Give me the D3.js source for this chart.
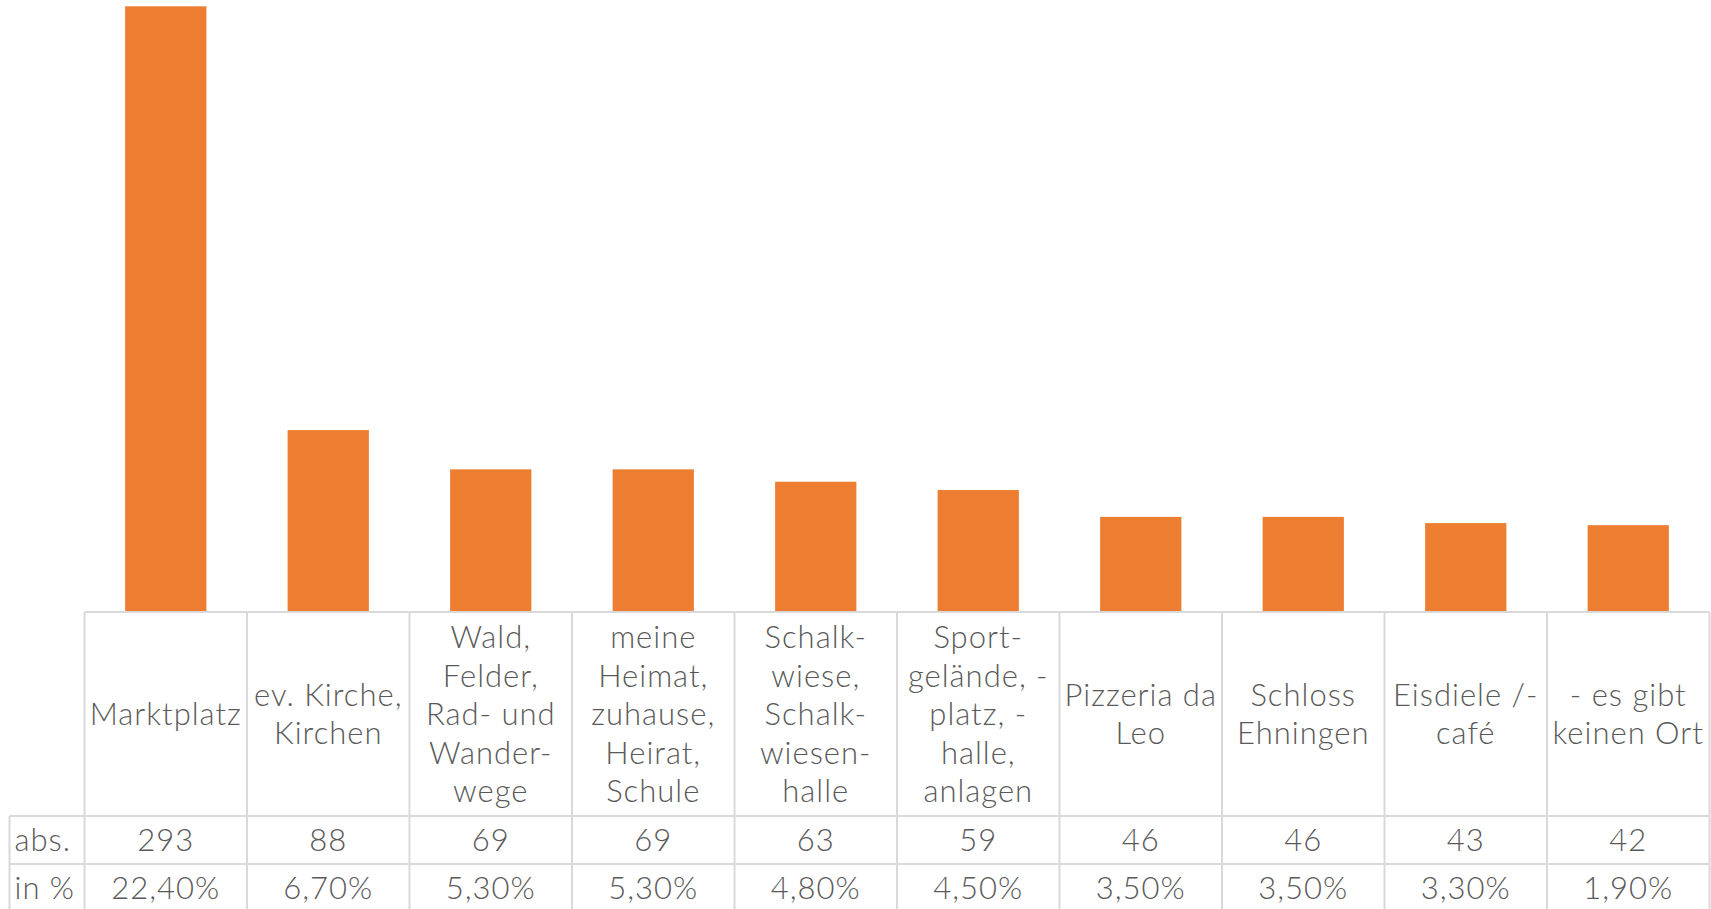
<!DOCTYPE html>
<html>
<head>
<meta charset="utf-8">
<script src="https://cdn.jsdelivr.net/npm/d3@7"></script>
<style>
  body { margin: 0; background: #fff; }
  svg { display: block; }
  text { font-family: Lato, "Open Sans", sans-serif; font-weight: 300; fill: #595959; letter-spacing: 1px; }
</style>
</head>
<body>
<div id="chart"></div>
<script>
// categories, wrapped the way the source chart shows them
const categories = [
  ["Marktplatz"],
  ["ev. Kirche,", "Kirchen"],
  ["Wald,", "Felder,", "Rad- und", "Wander-", "wege"],
  ["meine", "Heimat,", "zuhause,", "Heirat,", "Schule"],
  ["Schalk-", "wiese,", "Schalk-", "wiesen-", "halle"],
  ["Sport-", "gelände, -", "platz, -", "halle,", "anlagen"],
  ["Pizzeria da", "Leo"],
  ["Schloss", "Ehningen"],
  ["Eisdiele /-", "café"],
  ["- es gibt", "keinen Ort"]
];
const absValues = [293, 88, 69, 69, 63, 59, 46, 46, 43, 42];
const pctLabels = ["22,40%", "6,70%", "5,30%", "5,30%", "4,80%", "4,50%", "3,50%", "3,50%", "3,30%", "1,90%"];
const rowLabels = ["abs.", "in %"];

const width = 1711;
const height = 909;

// layout
const tableLeft = 9.5;
const colLeft = 84.5;
const colRight = 1709.5;
const plotTop = 6.3;
const catTop = 612;
const absTop = 816;
const rowH = 48;
const lineH = 38.5;
const fontSize = 31;
const gridColor = "#d9d9d9";

const keys = categories.map((d, i) => i);

const xCol = d3.scaleBand().domain(keys).range([colLeft, colRight]).padding(0);
const xBar = d3.scaleBand().domain(keys).range([colLeft, colRight])
  .paddingInner(0.5).paddingOuter(0.25);
const y = d3.scaleLinear().domain([0, d3.max(absValues)]).range([catTop, plotTop]);

const svg = d3.select("#chart").append("svg")
  .attr("width", width)
  .attr("height", height);

// bars
svg.append("g")
  .selectAll("rect")
  .data(absValues)
  .join("rect")
  .attr("x", (d, i) => xBar(i))
  .attr("y", (d) => y(d))
  .attr("width", xBar.bandwidth())
  .attr("height", (d) => y(0) - y(d))
  .attr("fill", "#ED7D31");

// table grid
const grid = svg.append("g")
  .attr("stroke", gridColor)
  .attr("stroke-width", 2)
  .attr("fill", "none");

const rowTops = [catTop, absTop, absTop + rowH, absTop + 2 * rowH];
rowTops.forEach((yy, k) => {
  grid.append("line")
    .attr("x1", k === 0 ? colLeft : tableLeft)
    .attr("x2", colRight)
    .attr("y1", yy)
    .attr("y2", yy);
});

// vertical lines
keys.concat([keys.length]).forEach((i) => {
  const xx = i < keys.length ? xCol(i) : colRight;
  grid.append("line")
    .attr("x1", xx).attr("x2", xx)
    .attr("y1", catTop).attr("y2", height + 10);
});
grid.append("line")
  .attr("x1", tableLeft).attr("x2", tableLeft)
  .attr("y1", absTop).attr("y2", height + 10);

// category labels
const catMid = (catTop + absTop) / 2;
const catText = svg.append("g")
  .selectAll("text")
  .data(categories)
  .join("text")
  .attr("text-anchor", "middle")
  .attr("font-size", fontSize)
  .attr("x", (d, i) => xCol(i) + xCol.bandwidth() / 2)
  .attr("y", (d) => catMid - (d.length - 1) * lineH / 2 + fontSize * 0.36);

catText.selectAll("tspan")
  .data((d) => d)
  .join("tspan")
  .attr("x", function () { return d3.select(this.parentNode).attr("x"); })
  .attr("dy", (d, j) => (j === 0 ? 0 : lineH))
  .text((d) => d);

// value rows
const rows = [absValues.map(String), pctLabels];
rows.forEach((vals, r) => {
  const mid = absTop + rowH * r + rowH / 2;
  svg.append("text")
    .attr("x", tableLeft + 5)
    .attr("y", mid + fontSize * 0.36)
    .attr("font-size", fontSize)
    .text(rowLabels[r]);

  svg.append("g")
    .selectAll("text")
    .data(vals)
    .join("text")
    .attr("text-anchor", "middle")
    .attr("font-size", fontSize)
    .attr("x", (d, i) => xCol(i) + xCol.bandwidth() / 2)
    .attr("y", mid + fontSize * 0.36)
    .text((d) => d);
});
</script>
</body>
</html>
